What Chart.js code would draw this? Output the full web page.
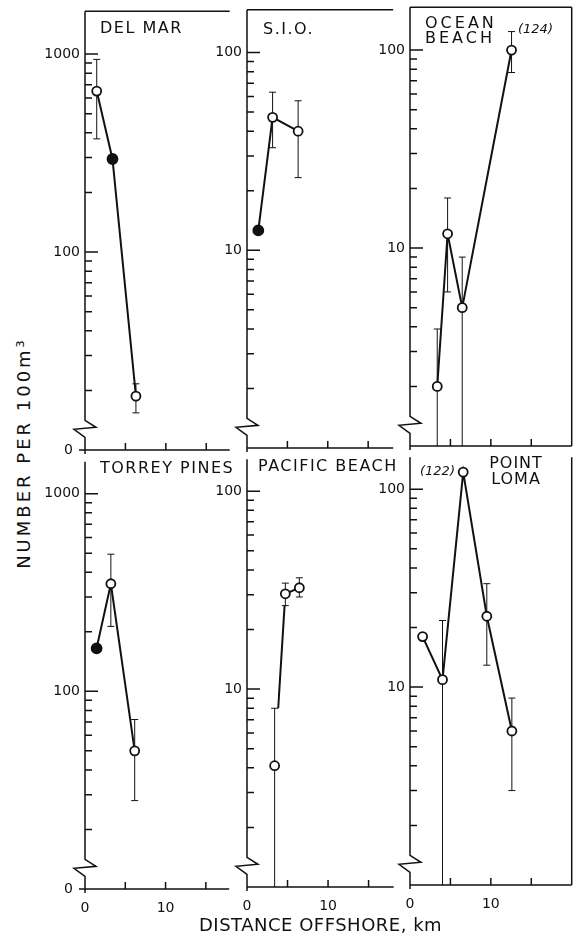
<!DOCTYPE html>
<html>
<head>
<meta charset="utf-8">
<script src="https://cdn.jsdelivr.net/npm/chart.js@4.4.1/dist/chart.umd.min.js"></script>
<style>
  body { margin: 0; background: #fff; }
  #fig { position: relative; width: 579px; height: 941px; overflow: hidden; font-family: "DejaVu Sans", sans-serif; color: #111; }
  #fig canvas { position: absolute; }
  .lbl { position: absolute; font-size: 16px; line-height: 16px; letter-spacing: 1.5px; white-space: nowrap; z-index: 2; }
  .note { position: absolute; font-size: 13px; line-height: 13px; font-style: italic; white-space: nowrap; z-index: 2; }
  .axt { position: absolute; font-size: 18px; line-height: 18px; white-space: nowrap; z-index: 2; }
</style>
</head>
<body>
<div id="fig">
  <div class="lbl" style="left:100px;top:20px">DEL MAR</div>
  <div class="lbl" style="left:263px;top:21px">S.I.O.</div>
  <div class="lbl" style="left:425px;top:15px;line-height:15px;letter-spacing:3px">OCEAN<br>BEACH</div>
  <div class="lbl" style="left:100px;top:460px">TORREY PINES</div>
  <div class="lbl" style="left:258px;top:458px">PACIFIC BEACH</div>
  <div class="lbl" style="left:476px;top:455px;width:80px;text-align:center;letter-spacing:1px">POINT<br>LOMA</div>
  <div class="note" style="left:518px;top:22px">(124)</div>
  <div class="note" style="left:420px;top:464px">(122)</div>
  <div class="axt" style="left:199px;top:916px;letter-spacing:0.5px">DISTANCE OFFSHORE, km</div>
  <div class="axt" style="left:24px;top:453px;letter-spacing:3px;transform:translate(-50%,-50%) rotate(-90deg)">NUMBER PER 100m³</div>
</div>
<script>
// tick labels
const topTicks = [1000, 100, 100, 1000, 100, 100];
const xTickLabels = [0, 10];
const xTickStep = 5;

// Del Mar
const delMarKm = [1.45, 3.4, 6.3];
const delMarN = [650, 295, 18.7];
const delMarLo = [373, null, 15.4];
const delMarHi = [940, null, 21.6];
const delMarFilled = [false, true, false];

// S.I.O.
const sioKm = [1.4, 3.17, 6.33];
const sioN = [12.6, 47, 40];
const sioLo = [null, 33, 23.3];
const sioHi = [null, 63, 57];
const sioFilled = [true, false, false];

// Ocean Beach
const oceanKm = [3.37, 4.65, 6.46, 12.56];
const oceanN = [2.0, 11.8, 5.0, 100];
const oceanLo = [0, 6.0, 0, 77];
const oceanHi = [3.9, 17.9, 9.0, 124];
const oceanFilled = [false, false, false, false];

// Torrey Pines
const torreyKm = [1.44, 3.21, 6.17];
const torreyN = [165, 350, 50];
const torreyLo = [null, 213, 28];
const torreyHi = [null, 494, 72];
const torreyFilled = [true, false, false];

// Pacific Beach
const pacificKm = [3.41, 4.73, 6.46];
const pacificN = [4.1, 30.3, 32.5];
const pacificLo = [0, 26.4, 29.2];
const pacificHi = [8.0, 34.3, 36.5];
const pacificFilled = [false, false, false];
const pacificGapped = [true, false]; // first segment only drawn between the bar ends

// Point Loma
const lomaKm = [1.56, 4.02, 6.58, 9.5, 12.6];
const lomaN = [18, 10.9, 122, 22.8, 6];
const lomaLo = [null, 0, null, 12.9, 3];
const lomaHi = [null, 21.7, null, 33.3, 8.8];
const lomaFilled = [false, false, false, false, false];

const panels = [
  { km: delMarKm, n: delMarN, lo: delMarLo, hi: delMarHi, filled: delMarFilled, top: topTicks[0], row: 0, col: 0 },
  { km: sioKm, n: sioN, lo: sioLo, hi: sioHi, filled: sioFilled, top: topTicks[1], row: 0, col: 1 },
  { km: oceanKm, n: oceanN, lo: oceanLo, hi: oceanHi, filled: oceanFilled, top: topTicks[2], row: 0, col: 2 },
  { km: torreyKm, n: torreyN, lo: torreyLo, hi: torreyHi, filled: torreyFilled, top: topTicks[3], row: 1, col: 0 },
  { km: pacificKm, n: pacificN, lo: pacificLo, hi: pacificHi, filled: pacificFilled, top: topTicks[4], row: 1, col: 1, gapped: pacificGapped },
  { km: lomaKm, n: lomaN, lo: lomaLo, hi: lomaHi, filled: lomaFilled, top: topTicks[5], row: 1, col: 2 }
];

// layout
const pxPerKm = 8.1, pxPerDecade = 199;
const colAxisX = [85, 247, 410];
const colKmMax = [17.9, 18.1, 20];
const colShift = [2, 0, -2.5];
const rowTop = [7, 457];
const rowHeadroom = [0.216, 0.161];
const LW = 50, RP = 6, TP = 4;
const rowBH = [14, 34];

function toPos(v, zero) {
  return v > 0 ? Math.log10(v) : zero;
}

function gapDash(c, p) {
  if (!p.gapped || !p.gapped[c.p0DataIndex]) return undefined;
  const i = c.p0DataIndex, j = c.p1DataIndex;
  const v0 = Math.log10(p.n[i]), v1 = Math.log10(p.n[j]);
  const t0 = (Math.log10(p.hi[i]) - v0) / (v1 - v0);
  const t1 = (Math.log10(p.lo[j]) - v0) / (v1 - v0);
  const len = Math.hypot(c.p1.x - c.p0.x, c.p1.y - c.p0.y);
  return [0, t0 * len, (t1 - t0) * len, len * 2];
}

function makeFrame(p) {
  return {
    id: "frame",
    beforeDatasetsDraw(chart) {
      const { ctx, chartArea: a, scales: { x, y } } = chart;
      ctx.save();
      ctx.strokeStyle = "#111";
      ctx.lineWidth = 1.5;
      ctx.beginPath();
      // y axis with break
      const yb = y.getPixelForValue(y.min + 0.15);
      ctx.moveTo(a.left, a.top);
      ctx.lineTo(a.left, yb);
      ctx.lineTo(a.left + 11, yb + 7);
      ctx.lineTo(a.left - 11, yb + 9);
      ctx.lineTo(a.left, yb + 17);
      ctx.lineTo(a.left, a.bottom + 4);
      // x axis
      ctx.moveTo(p.col === 0 ? a.left - 6 : a.left, a.bottom);
      ctx.lineTo(a.right, a.bottom);
      if (p.row === 0) {
        ctx.moveTo(a.left, a.top);
        ctx.lineTo(a.right, a.top);
      }
      if (p.col === 2) {
        ctx.moveTo(a.right, a.top);
        ctx.lineTo(a.right, a.bottom);
      }
      // y ticks, inside
      const hiDec = Math.log10(p.top);
      for (let d = hiDec - 2; d < hiDec; d++) {
        for (let m = 1; m <= 9; m++) {
          if (d === hiDec - 2 && m === 1) continue;
          const py = y.getPixelForValue(d + Math.log10(m));
          ctx.moveTo(a.left, py);
          ctx.lineTo(a.left + (m === 1 ? 13 : 7), py);
        }
      }
      const pyTop = y.getPixelForValue(hiDec);
      ctx.moveTo(a.left, pyTop);
      ctx.lineTo(a.left + 13, pyTop);
      // x ticks, inside
      for (let k = xTickStep; k < x.max; k += xTickStep) {
        const px = x.getPixelForValue(k);
        ctx.moveTo(px, a.bottom);
        ctx.lineTo(px, a.bottom - 7);
      }
      ctx.stroke();

      // error bars
      ctx.lineWidth = 1;
      ctx.beginPath();
      p.n.forEach((v, i) => {
        if (p.hi[i] == null) return;
        const px = x.getPixelForValue(p.km[i]);
        const yHi = y.getPixelForValue(toPos(p.hi[i], y.min));
        const yLo = y.getPixelForValue(toPos(p.lo[i], y.min));
        ctx.moveTo(px, yHi);
        ctx.lineTo(px, yLo);
        ctx.moveTo(px - 3.5, yHi);
        ctx.lineTo(px + 3.5, yHi);
        if (p.lo[i] > 0) {
          ctx.moveTo(px - 3.5, yLo);
          ctx.lineTo(px + 3.5, yLo);
        }
      });
      ctx.stroke();
      ctx.restore();
    }
  };
}

const fig = document.getElementById("fig");

panels.forEach(p => {
  const hiDec = Math.log10(p.top);
  const yMin = hiDec - 2, yMax = hiDec + rowHeadroom[p.row];
  const areaW = colKmMax[p.col] * pxPerKm;
  const areaH = (yMax - yMin) * pxPerDecade;
  const BH = rowBH[p.row];

  const cv = document.createElement("canvas");
  cv.width = Math.round(LW + areaW + RP);
  cv.height = Math.round(TP + areaH + BH);
  cv.style.left = (colAxisX[p.col] - LW) + "px";
  cv.style.top = (rowTop[p.row] + colShift[p.col] - TP) + "px";
  fig.appendChild(cv);

  new Chart(cv, {
    type: "line",
    data: {
      datasets: [{
        data: p.km.map((k, i) => ({ x: k, y: Math.log10(p.n[i]) })),
        borderColor: "#111",
        borderWidth: 2,
        tension: 0,
        fill: false,
        pointRadius: p.filled.map(f => f ? 5 : 4.5),
        pointBorderWidth: 1.8,
        pointBorderColor: "#111",
        pointBackgroundColor: p.filled.map(f => f ? "#111" : "#fff"),
        clip: false,
        segment: { borderDash: c => gapDash(c, p) }
      }]
    },
    options: {
      responsive: false,
      animation: false,
      events: [],
      layout: { padding: { left: 0, top: TP, right: RP + (cv.width - Math.round(LW + areaW + RP)), bottom: 0 } },
      plugins: { legend: { display: false }, tooltip: { enabled: false } },
      scales: {
        x: {
          type: "linear",
          min: 0,
          max: colKmMax[p.col],
          grid: { display: false, drawTicks: false },
          border: { display: false },
          ticks: {
            display: p.row === 1,
            autoSkip: false,
            maxRotation: 0,
            padding: 11,
            color: "#111",
            font: { family: "DejaVu Sans", size: 14 },
            callback: v => xTickLabels.includes(v) ? String(v) : ""
          },
          afterBuildTicks: s => { s.ticks = [0, 5, 10, 15].map(v => ({ value: v })); },
          afterFit: s => { s.height = BH; s.paddingLeft = 0; s.paddingRight = 0; }
        },
        y: {
          type: "linear",
          min: yMin,
          max: yMax,
          grid: { display: false, drawTicks: false },
          border: { display: false },
          ticks: {
            autoSkip: false,
            padding: 5,
            color: "#111",
            font: { family: "DejaVu Sans", size: 14 },
            callback: v => v === yMin ? (p.col === 0 ? "0\u2002" : "") : String(Math.round(Math.pow(10, v)))
          },
          afterBuildTicks: s => { s.ticks = [yMin, hiDec - 1, hiDec].map(v => ({ value: v })); },
          afterFit: s => { s.width = LW; s.paddingTop = 0; s.paddingBottom = 0; }
        }
      }
    },
    plugins: [makeFrame(p)]
  });
});
</script>
</body>
</html>
